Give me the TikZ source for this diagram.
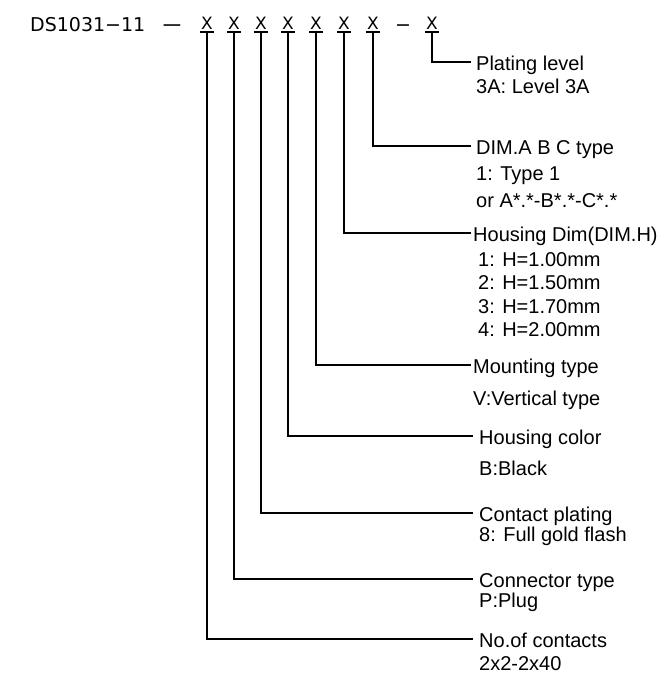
\documentclass[tikz,border=0pt]{standalone}
\usepackage{fontspec}
\setmainfont{Liberation Sans}
\newfontfamily\hdrfont{DejaVu Sans}
\begin{document}
\begin{tikzpicture}[x=1pt,y=-1pt,
  hdr/.style={font=\hdrfont\fontsize{19}{22}\selectfont, inner sep=0pt, anchor=base},
  xmark/.style={font=\hdrfont\fontsize{17}{20}\selectfont, inner sep=0pt, anchor=base, text depth=3pt},
  ttl/.style={font=\fontsize{20}{24}\selectfont, inner sep=0pt, anchor=west, text height=16pt, text depth=0pt},
  sub/.style={font=\fontsize{20}{24}\selectfont, inner sep=0pt, anchor=base west},
  conn/.style={line width=1.6pt, line cap=rect},
  uline/.style={line width=1.5pt}]
\useasboundingbox (0,0) rectangle (664,675);

% header
\node[hdr, anchor=base west] (code) at (30,31) {DS1031−11};
\node[hdr] (d1) at (172,31) {\scalebox{1.4}[1]{−}};
\node[hdr] (d2) at (403,31) {−};
\foreach \n/\xx in {1/207,2/234,3/261,4/288,5/316,6/344,7/373,8/432}{
  \node[xmark] (x\n) at (\xx,29) {X};
  \draw[uline] ([xshift=-7pt]x\n.south) -- ([xshift=7pt]x\n.south);
}

% labels (titles)
\node[ttl] (t8) at (476,62)  {Plating level};
\node[ttl] (t7) at (476,146) {DIM.A B C type};
\node[ttl] (t6) at (473,233) {Housing Dim(DIM.H)};
\node[ttl] (t5) at (473,365) {Mounting type};
\node[ttl] (t4) at (479,436) {Housing color};
\node[ttl] (t3) at (479,513) {Contact plating};
\node[ttl] (t2) at (479,579) {Connector type};
\node[ttl] (t1) at (479,639) {No.of contacts};

% sub lines
\node[sub] (s8a) at (476,93)  {3A: Level 3A};
\node[sub] (s7a) at (476,180) {1: Type 1};
\node[sub] (s7b) at (476,207) {or A*.*-B*.*-C*.*};
\node[sub] (s6a) at (478,266) {1: H=1.00mm};
\node[sub] (s6b) at (478,289) {2: H=1.50mm};
\node[sub] (s6c) at (478,313) {3: H=1.70mm};
\node[sub] (s6d) at (478,336) {4: H=2.00mm};
\node[sub] (s5a) at (473,405) {V:Vertical type};
\node[sub] (s4a) at (479,475) {B:Black};
\node[sub] (s3a) at (479,541) {8: Full gold flash};
\node[sub] (s2a) at (479,607) {P:Plug};
\node[sub] (s1a) at (479,670) {2x2-2x40};

% connectors
\draw[conn] (x8.south) |- ([xshift=-6pt]t8.west);
\draw[conn] (x7.south) |- ([xshift=-6pt]t7.west);
\draw[conn] (x6.south) |- ([xshift=-3pt]t6.west);
\draw[conn] (x5.south) |- ([xshift=-3pt]t5.west);
\draw[conn] (x4.south) |- ([xshift=-7pt]t4.west);
\draw[conn] (x3.south) |- ([xshift=-7pt]t3.west);
\draw[conn] (x2.south) |- ([xshift=-7pt]t2.west);
\draw[conn] (x1.south) |- ([xshift=-7pt]t1.west);
\end{tikzpicture}
\end{document}
